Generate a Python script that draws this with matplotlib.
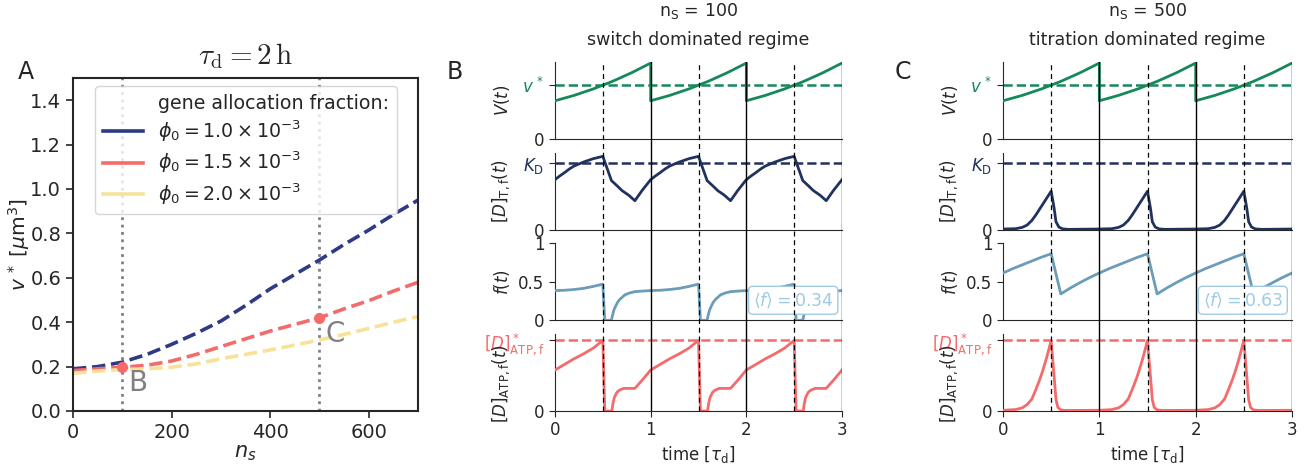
import numpy as np
import matplotlib.pyplot as plt
from matplotlib.lines import Line2D

# ---------------- Panel A: critical volume vs. number of switch proteins ----
ns = [0, 50, 100, 150, 200, 250, 300, 350, 400, 450, 500, 550, 600, 650, 700]
v_phi10 = [0.19, 0.20, 0.22, 0.255, 0.30, 0.35, 0.405, 0.475, 0.55, 0.615,
           0.68, 0.75, 0.815, 0.885, 0.95]
v_phi15 = [0.182, 0.19, 0.197, 0.206, 0.225, 0.255, 0.29, 0.325, 0.36, 0.39,
           0.42, 0.46, 0.497, 0.54, 0.58]
v_phi20 = [0.17, 0.18, 0.187, 0.19, 0.197, 0.212, 0.235, 0.255, 0.275, 0.297,
           0.32, 0.345, 0.372, 0.40, 0.425]
phi_labels = [r'$\phi_0 = 1.0 \times 10^{-3}$',
              r'$\phi_0 = 1.5 \times 10^{-3}$',
              r'$\phi_0 = 2.0 \times 10^{-3}$']
marked_ns = [100, 500]
marked_v = [0.20, 0.42]
marked_names = ['B', 'C']

# ---------------- Panels B/C: one cell cycle (time in units of tau_d) -------
# volume relative to the critical volume v*
t_V = [0, 0.1, 0.2, 0.3, 0.4, 0.5, 0.6, 0.7, 0.8, 0.9, 1.0]
V_cycle = [0.71, 0.76, 0.81, 0.87, 0.93, 1.0, 1.07, 1.15, 1.23, 1.32, 1.41]

# switch dominated regime (n_s = 100)
t_DT_sw = [0, 0.05, 0.1, 0.15, 0.2, 0.3, 0.4, 0.5, 0.59, 0.65, 0.70, 0.77,
           0.835, 0.91, 1.0]
DT_sw = [0.754, 0.81, 0.86, 0.915, 0.96, 1.02, 1.07, 1.105, 0.74, 0.66,
         0.59, 0.52, 0.437, 0.59, 0.754]
t_f_sw = [0, 0.1, 0.2, 0.3, 0.4, 0.5, 0.52, 0.59, 0.60, 0.615, 0.63, 0.655,
          0.68, 0.73, 0.78, 0.835, 0.92, 1.0]
f_sw = [0.386, 0.39, 0.40, 0.415, 0.44, 0.47, 0.0, 0.0, 0.06, 0.13, 0.175,
        0.235, 0.275, 0.33, 0.355, 0.372, 0.38, 0.386]
t_atp_sw = [0, 0.1, 0.2, 0.3, 0.4, 0.5, 0.52, 0.595, 0.605, 0.62, 0.645,
            0.667, 0.70, 0.72, 0.835, 0.92, 1.0]
atp_sw = [0.58, 0.66, 0.74, 0.81, 0.89, 1.0, 0.0, 0.0, 0.1, 0.19, 0.26,
          0.29, 0.31, 0.32, 0.32, 0.45, 0.58]
f_mean_sw = 0.34

# titration dominated regime (n_s = 500)
t_DT_ti = [0, 0.13, 0.2, 0.25, 0.3, 0.34, 0.42, 0.5, 0.53, 0.55, 0.58, 0.62,
           0.68, 1.0]
DT_ti = [0.01, 0.015, 0.035, 0.07, 0.14, 0.22, 0.40, 0.58, 0.33, 0.12, 0.04,
         0.012, 0.005, 0.01]
t_f_ti = [0, 0.1, 0.2, 0.3, 0.4, 0.5, 0.6, 0.7, 0.8, 0.9, 1.0]
f_ti = [0.614, 0.67, 0.72, 0.77, 0.82, 0.864, 0.342, 0.42, 0.49, 0.555, 0.614]
t_atp_ti = [0, 0.13, 0.2, 0.25, 0.3, 0.34, 0.38, 0.41, 0.45, 0.5, 0.53, 0.55,
            0.57, 0.6, 0.65, 1.0]
atp_ti = [0.01, 0.02, 0.045, 0.09, 0.17, 0.30, 0.44, 0.56, 0.74, 1.0, 0.5,
          0.16, 0.05, 0.015, 0.008, 0.01]
f_mean_ti = 0.63

n_cycles = 3

# ---------------- style ----------------
INK = '#262626'
plt.rcParams.update({
    'font.family': 'DejaVu Sans',
    'text.color': INK, 'axes.labelcolor': INK,
    'xtick.color': INK, 'ytick.color': INK,
    'axes.edgecolor': INK,
})
c_phi = ['#2d3b86', '#f46b6b', '#f7e298']
c_V = '#16895a'
c_DT = '#22325e'
c_f = '#6b9cb8'
c_atp = '#f56b6b'
c_mean = '#9fcbe4'

W, H = 1314, 468
fig = plt.figure(figsize=(W / 100, H / 100), dpi=100)


def px_axes(left, top, right, bottom, **kw):
    return fig.add_axes([left / W, 1 - bottom / H, (right - left) / W,
                         (bottom - top) / H], **kw)


def tile(t, y):
    tt = np.concatenate([np.asarray(t) + k for k in range(n_cycles)])
    yy = np.concatenate([np.asarray(y)] * n_cycles)
    return tt, yy


# ---------------- Panel A ----------------
axA = px_axes(73, 78, 418, 411)
for xv in marked_ns:
    axA.axvline(xv, color='grey', ls=':', lw=2, zorder=1)
for vals, col in zip([v_phi10, v_phi15, v_phi20], c_phi):
    axA.plot(ns, vals, color=col, ls='--', lw=2.6, zorder=2)
axA.plot(marked_ns, marked_v, 'o', color=c_phi[1], ms=7, zorder=3)
for xv, yv, name in zip(marked_ns, marked_v, marked_names):
    axA.text(xv + 12, yv - 0.075, name, color='grey', fontsize=20,
             ha='left', va='center')
axA.set_xlim(0, 700)
axA.set_ylim(0, 1.5)
axA.set_xticks([0, 200, 400, 600])
axA.set_yticks(np.arange(0, 1.41, 0.2))
axA.tick_params(labelsize=14, length=5, width=1.2)
for s in axA.spines.values():
    s.set_linewidth(1.5)
axA.set_xlabel(r'$n_s$', fontsize=15, labelpad=1)
axA.set_ylabel(r'$v\,^*$ [$\mu$m$^3$]', fontsize=14.5)
axA.yaxis.set_label_coords(-0.118, 0.5)
axA.set_title(r'$\tau_\mathrm{d} = 2\,\mathrm{h}$', fontsize=21,
              math_fontfamily='cm', pad=10)
handles = [Line2D([], [], color='none')] + \
    [Line2D([], [], color=c, lw=2.6) for c in c_phi]
labels = ['gene allocation fraction:'] + phi_labels
axA.legend(handles, labels, loc='upper left', bbox_to_anchor=(0.064, 0.975),
           borderaxespad=0, fontsize=13.7, handlelength=2.1,
           labelspacing=0.3, handletextpad=0.8)
fig.text(18 / W, 1 - 72 / H, 'A', fontsize=17, ha='left', va='center')

# ---------------- Panels B and C ----------------
rows = [(62, 139), (152.7, 229.7), (243.3, 320.3), (334, 411)]


def draw_column(x0, x1, DT, f, atp, f_mean, head, regime, letter):
    t_DT, v_DT = DT
    t_f, v_f = f
    t_a, v_a = atp
    axs = [px_axes(x0, top, x1, bot) for top, bot in rows]
    series = [
        (t_V, V_cycle, c_V, 1.0, 1.43, r'$v\,^*$', r'$V(t)$', 0.5),
        (t_DT, v_DT, c_DT, 1.0, 1.16, r'$K_\mathrm{D}$',
         r'$[D]_{\mathrm{T,f}}(t)$', 0.5),
        (t_f, v_f, c_f, None, 1.0, None, r'$f(t)$', 0.5),
        (t_a, v_a, c_atp, 1.0, 1.09, r'$[D]^*_{\mathrm{ATP,f}}$',
         r'$[D]_{\mathrm{ATP,f}}(t)$', 0.36),
    ]
    for i, (ax, (tc, yc, col, ref, ytop, reflab, ylab, ly)) in enumerate(
            zip(axs, series)):
        tt, yy = tile(tc, yc)
        ax.plot(tt, yy, color=col, lw=2.0, zorder=3)
        if ref is not None:
            ax.axhline(ref, color=col, ls='--', lw=1.8, zorder=2)
            ax.set_yticks([0, ref])
            ax.set_yticklabels(['0', reflab])
            ax.get_yticklabels()[1].set_color(col)
        else:
            ax.set_yticks([0, 0.5, 1])
            ax.set_yticklabels(['0', '0.5', '1'])
        ax.set_xlim(0, 3)
        ax.set_ylim(0, ytop)
        ax.spines['top'].set_visible(False)
        ax.spines['right'].set_visible(False)
        ax.tick_params(labelsize=12, length=4)
        ax.set_ylabel(ylab, fontsize=12)
        ax.yaxis.set_label_coords(-0.15, ly)
        if i < 3:
            ax.tick_params(axis='x', bottom=False, labelbottom=False)
        else:
            ax.set_xticks([0, 1, 2, 3])
            ax.set_xlabel(r'time [$\tau_\mathrm{d}$]', fontsize=12,
                          labelpad=3)
        ax.patch.set_alpha(0)
    axs[2].text(0.83, 0.26, r'$\langle f\rangle = %.2f$' % f_mean,
                transform=axs[2].transAxes, ha='center', va='center',
                fontsize=12.5, color=c_mean, zorder=6,
                bbox=dict(boxstyle='round,pad=0.25', fc='white', ec=c_mean,
                          lw=1.0))
    # initiation (dashed) and division (solid) events across the column
    ov = px_axes(x0, rows[0][0], x1, rows[-1][1])
    ov.set_xlim(0, 3)
    ov.set_ylim(0, 1)
    ov.axis('off')
    for k in range(n_cycles):
        ov.axvline(k + 0.5, color='black', lw=0.9, ls=(0, (4, 3)))
        ov.axvline(k + 1, color='black', lw=1.0)
    xc = (x0 + x1) / 2 / W
    fig.text(xc, 1 - 11 / H, head, fontsize=12.5, ha='center', va='center')
    fig.text(xc, 1 - 40 / H, regime, fontsize=12.5, ha='center', va='center')
    fig.text((x0 - 108) / W, 1 - 72 / H, letter, fontsize=17, ha='left',
             va='center')


draw_column(555, 842, (t_DT_sw, DT_sw), (t_f_sw, f_sw), (t_atp_sw, atp_sw),
            f_mean_sw, r'$\mathrm{n_S}$ = 100', 'switch dominated regime', 'B')
draw_column(1003, 1292, (t_DT_ti, DT_ti), (t_f_ti, f_ti), (t_atp_ti, atp_ti),
            f_mean_ti, r'$\mathrm{n_S}$ = 500', 'titration dominated regime',
            'C')

fig.savefig('out.png', dpi=100)
